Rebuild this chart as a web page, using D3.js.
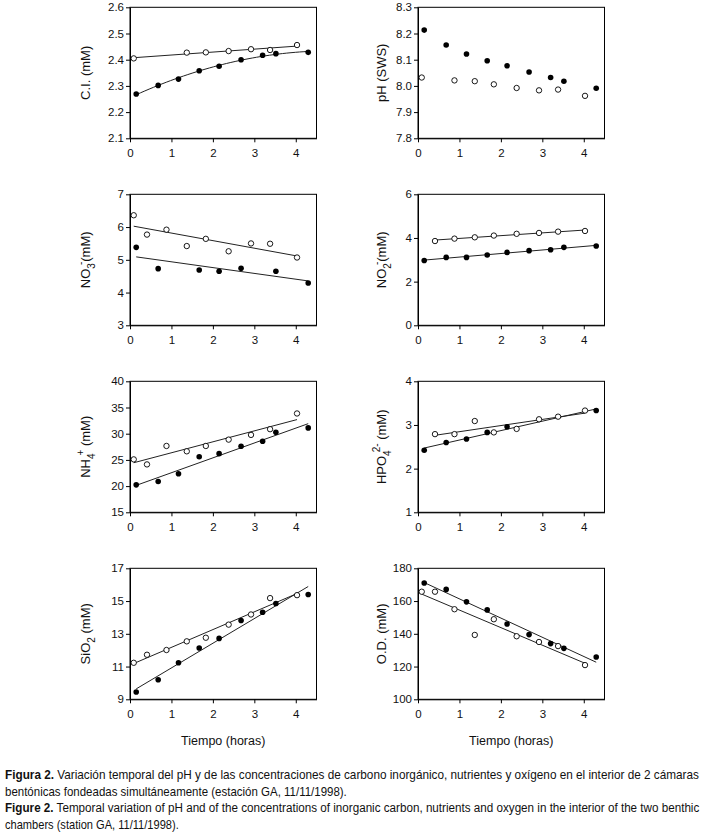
<!DOCTYPE html>
<html>
<head>
<meta charset="utf-8">
<script src="https://cdn.jsdelivr.net/npm/d3@7"></script>
<style>
  body { margin: 0; background: #fff; }
  svg { display: block; font-family: "Liberation Sans", Arial, sans-serif; }
</style>
</head>
<body>
<svg id="fig" width="703" height="838"></svg>
<script>
// sampling times (hours) for the two chambers
const timesFilled = [0.15, 0.68, 1.17, 1.67, 2.15, 2.68, 3.2, 3.52, 4.3];
const timesOpen = [0.09, 0.41, 0.88, 1.37, 1.83, 2.38, 2.92, 3.38, 4.03];
const xTicks = [0, 1, 2, 3, 4];

// values (null = no point)
const ciFilled = [2.269, 2.302, 2.326, 2.358, 2.375, 2.400, 2.417, 2.423, 2.428];
const ciOpen = [2.405, null, null, 2.427, 2.428, 2.433, 2.440, 2.437, 2.456];
const phFilled = [8.213, 8.156, 8.122, 8.096, 8.077, 8.053, 8.032, 8.018, 7.991];
const phOpen = [8.032, null, 8.021, 8.018, 8.006, 7.992, 7.983, 7.986, 7.962];
const no3Filled = [5.38, 4.73, null, 4.69, 4.65, 4.74, null, 4.65, 4.29];
const no3Open = [6.36, 5.77, 5.92, 5.42, 5.64, 5.26, 5.50, 5.49, 5.07];
const no2Filled = [2.97, 3.11, 3.11, 3.22, 3.34, 3.42, 3.46, 3.57, 3.63];
const no2Open = [null, 3.86, 3.97, 4.03, 4.11, 4.19, 4.23, 4.29, 4.32];
const nh4Filled = [20.24, 20.88, 22.35, 25.61, 26.19, 27.60, 28.56, 30.28, 31.11];
const nh4Open = [25.10, 24.14, 27.66, 26.64, 27.66, 28.87, 29.77, 30.86, 33.86];
const hpo4Filled = [2.42, 2.60, 2.68, 2.83, 2.96, null, null, null, 3.33];
const hpo4Open = [null, 2.79, 2.79, 3.09, 2.83, 2.91, 3.13, 3.19, 3.33];
const sio2Filled = [9.45, 10.19, 11.23, 12.13, 12.72, 13.81, 14.32, 14.85, 15.40];
const sio2Open = [11.23, 11.72, 12.01, 12.54, 12.76, 13.56, 14.18, 15.18, 15.36];
const odFilled = [171.0, 167.1, 159.5, 154.6, 146.0, 139.5, 134.0, 131.1, 125.8];
const odOpen = [165.7, 165.7, 155.0, 139.3, 148.9, 138.5, 135.0, 132.5, 120.9];

// y tick labels per panel
const ciTicks = [2.1, 2.2, 2.3, 2.4, 2.5, 2.6];
const phTicks = [7.8, 7.9, 8.0, 8.1, 8.2, 8.3];
const no3Ticks = [3, 4, 5, 6, 7];
const no2Ticks = [0, 2, 4, 6];
const nh4Ticks = [15, 20, 25, 30, 35, 40];
const hpo4Ticks = [1, 2, 3, 4];
const sio2Ticks = [9, 11, 13, 15, 17];
const odTicks = [100, 120, 140, 160, 180];

const panels = [
  { col: 0, row: 0, ticks: ciTicks, fmt: ".1f", filled: ciFilled, open: ciOpen, fitF: "quad", fitO: "lin",
    label: [["C.I. (mM)"]] },
  { col: 1, row: 0, ticks: phTicks, fmt: ".1f", filled: phFilled, open: phOpen, fitF: null, fitO: null,
    label: [["pH (SWS)"]] },
  { col: 0, row: 1, ticks: no3Ticks, fmt: "d", filled: no3Filled, open: no3Open, fitF: "lin", fitO: "lin",
    label: [["NO"], ["3", "sub"], ["-", "sup"], ["(mM)"]] },
  { col: 1, row: 1, ticks: no2Ticks, fmt: "d", filled: no2Filled, open: no2Open, fitF: "lin", fitO: "lin",
    label: [["NO"], ["2", "sub"], ["-", "sup"], ["(mM)"]] },
  { col: 0, row: 2, ticks: nh4Ticks, fmt: "d", filled: nh4Filled, open: nh4Open, fitF: "lin", fitO: "lin",
    label: [["NH"], ["4", "sub"], ["+", "sup"], [" (mM)"]] },
  { col: 1, row: 2, ticks: hpo4Ticks, fmt: "d", filled: hpo4Filled, open: hpo4Open, fitF: "lin", fitO: "lin",
    label: [["HPO"], ["4", "sub"], ["2-", "sup"], [" (mM)"]] },
  { col: 0, row: 3, ticks: sio2Ticks, fmt: "d", filled: sio2Filled, open: sio2Open, fitF: "lin", fitO: "lin",
    label: [["SiO"], ["2", "sub"], [" (mM)"]] },
  { col: 1, row: 3, ticks: odTicks, fmt: "d", filled: odFilled, open: odOpen, fitF: "lin", fitO: "lin",
    label: [["O.D. (mM)"]] }
];

const colX = [130, 418];
const rowY = [7.3, 194.3, 381.3, 568.3];
const pw = 186.5, ph = 131;
const labelX = [90, 386];

const svg = d3.select("#fig");

function toPoints(times, vals) {
  return times.map((t, i) => ({ x: t, y: vals[i] })).filter(d => d.y != null);
}

// least squares polynomial (degree 1 or 2)
function polyFit(pts, deg) {
  const n = deg + 1;
  const A = d3.range(n).map(() => new Array(n + 1).fill(0));
  pts.forEach(p => {
    for (let r = 0; r < n; r++) {
      for (let c = 0; c < n; c++) A[r][c] += Math.pow(p.x, r + c);
      A[r][n] += p.y * Math.pow(p.x, r);
    }
  });
  for (let i = 0; i < n; i++) {
    for (let k = i + 1; k < n; k++) {
      const f = A[k][i] / A[i][i];
      for (let j = i; j <= n; j++) A[k][j] -= f * A[i][j];
    }
  }
  const coef = new Array(n).fill(0);
  for (let i = n - 1; i >= 0; i--) {
    let s = A[i][n];
    for (let j = i + 1; j < n; j++) s -= A[i][j] * coef[j];
    coef[i] = s / A[i][i];
  }
  return x => coef.reduce((acc, c, i) => acc + c * Math.pow(x, i), 0);
}

panels.forEach(p => {
  const g = svg.append("g").attr("transform", `translate(${colX[p.col]},${rowY[p.row]})`);
  const x = d3.scaleLinear().domain([0, 4.5]).range([0, pw]);
  const y = d3.scaleLinear().domain(d3.extent(p.ticks)).range([ph, 0]);

  g.append("rect").attr("width", pw).attr("height", ph)
    .attr("fill", "none").attr("stroke", "#000").attr("stroke-width", 1);

  const xa = g.append("g").attr("transform", `translate(0,${ph})`)
    .call(d3.axisBottom(x).tickValues(xTicks).tickFormat(d3.format("d")).tickSize(4).tickSizeOuter(0).tickPadding(7));
  const ya = g.append("g")
    .call(d3.axisLeft(y).tickValues(p.ticks).tickFormat(d3.format(p.fmt)).tickSize(4).tickSizeOuter(0).tickPadding(2));
  [xa, ya].forEach(a => {
    a.selectAll("text").attr("font-size", "11.5px").attr("fill", "#111")
      .attr("font-family", "'Liberation Sans', Arial, sans-serif");
    a.select(".domain").attr("stroke", "#000");
    a.selectAll(".tick line").attr("stroke", "#000");
  });

  const fp = toPoints(timesFilled, p.filled);
  const op = toPoints(timesOpen, p.open);

  // fitted trends
  [[fp, p.fitF], [op, p.fitO]].forEach(([pts, kind]) => {
    if (!kind) return;
    const f = polyFit(pts, kind === "quad" ? 2 : 1);
    const [x0, x1] = d3.extent(pts, d => d.x);
    const xs = kind === "quad" ? d3.range(0, 41).map(i => x0 + (x1 - x0) * i / 40) : [x0, x1];
    g.append("path")
      .attr("d", d3.line().x(d => x(d)).y(d => y(f(d)))(xs))
      .attr("fill", "none").attr("stroke", "#222").attr("stroke-width", 1);
  });

  g.selectAll("circle.f").data(fp).enter().append("circle")
    .attr("class", "f").attr("cx", d => x(d.x)).attr("cy", d => y(d.y)).attr("r", 2.8)
    .attr("fill", "#000");
  g.selectAll("circle.o").data(op).enter().append("circle")
    .attr("class", "o").attr("cx", d => x(d.x)).attr("cy", d => y(d.y)).attr("r", 2.7)
    .attr("fill", "#fff").attr("stroke", "#000").attr("stroke-width", 0.9);

  // rotated y label with sub/superscripts
  const lt = svg.append("text")
    .attr("transform", `translate(${labelX[p.col]},${rowY[p.row] + ph / 2}) rotate(-90)`)
    .attr("text-anchor", "middle").attr("font-size", "13px").attr("fill", "#111");
  let shift = 0;
  p.label.forEach(([t, kind]) => {
    let target = 0, fs = 13, dx = 0;
    if (kind === "sub") { target = 4.5; fs = 10; }
    if (kind === "sup") { target = -6; fs = 10; dx = -2; }
    lt.append("tspan").attr("dy", target - shift).attr("dx", dx)
      .attr("font-size", fs + "px").text(t);
    shift = target;
  });
});

// shared x label
colX.forEach(cx => {
  svg.append("text").attr("x", cx + pw / 2).attr("y", 745)
    .attr("text-anchor", "middle").attr("font-size", "12.5px").attr("fill", "#111")
    .text("Tiempo (horas)");
});

// caption: condensed lines, first and third stretched to full width
const captionLines = [
  { y: 779, w: 695, bold: "Figura 2.", text: " Variación temporal del pH y de las concentraciones de carbono inorgánico, nutrientes y oxígeno en el interior de 2 cámaras" },
  { y: 796, w: 342, bold: "", text: "bentónicas fondeadas simultáneamente (estación GA, 11/11/1998)." },
  { y: 812, w: 695, bold: "Figure 2.", text: " Temporal variation of pH and of the concentrations of inorganic carbon, nutrients and oxygen in the interior of the two benthic" },
  { y: 829, w: 174, bold: "", text: "chambers (station GA, 11/11/1998)." }
];
captionLines.forEach(l => {
  const t = svg.append("text").attr("x", 0).attr("y", 0)
    .attr("font-size", "12.5px").attr("fill", "#111")
    .attr("font-family", "'Liberation Sans', Arial, sans-serif");
  if (l.bold) t.append("tspan").attr("font-weight", "bold").text(l.bold);
  t.append("tspan").text(l.text);
  const len = t.node().getComputedTextLength();
  t.attr("transform", `translate(5,${l.y}) scale(${l.w / len},1)`);
});
</script>
</body>
</html>
